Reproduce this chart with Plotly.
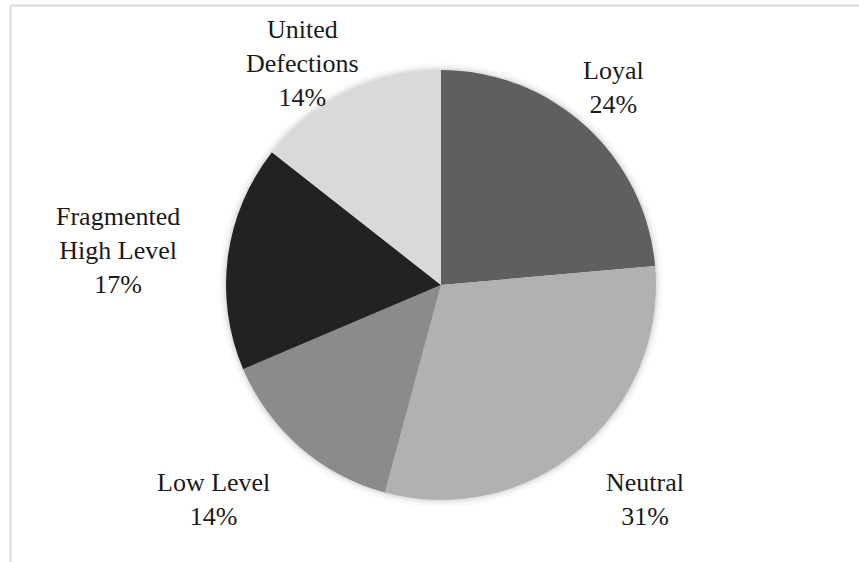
import plotly.graph_objects as go

# ---- data ----
categories = ["Loyal", "Neutral", "Low Level", "Fragmented<br>High Level", "United<br>Defections"]
shares = [23.6, 30.6, 14.4, 17.0, 14.4]
colors = ["#5f5f5f", "#b1b1b1", "#8b8b8b", "#222222", "#d9d9d9"]
title_text = "Figure 2: Composition of the Regime Types in Each of Elites"

# ---- layout constants (pixels) ----
W, H = 859, 562
cx, cy, r = 441, 285, 215
label_pos = [(613, 88), (645, 499), (213, 499), (118, 250), (302, 64)]
SERIF = "Times New Roman, Liberation Serif, serif"

total = sum(shares)

fig = go.Figure()
fig.add_trace(go.Pie(
    labels=[c.replace("<br>", " ") for c in categories],
    values=shares,
    marker=dict(colors=colors, line=dict(width=0)),
    sort=False,
    direction="clockwise",
    rotation=0,
    textinfo="none",
    hoverinfo="label+percent",
    showlegend=False,
    domain=dict(x=[(cx - r) / W, (cx + r) / W], y=[(H - cy - r) / H, (H - cy + r) / H]),
))

annotations = []
for (px, py), cat, v in zip(label_pos, categories, shares):
    annotations.append(dict(
        x=px / W, y=1 - py / H, xref="paper", yref="paper",
        text=f"{cat}<br>{round(v / total * 100)}%",
        showarrow=False, xanchor="center", yanchor="middle",
        font=dict(family=SERIF, size=26, color="#1a1a1a"),
    ))

annotations.append(dict(
    x=143 / W, y=1 - 2 / H, xref="paper", yref="paper",
    text=f"<b><i>{title_text}</i></b>", showarrow=False,
    xanchor="left", yanchor="bottom",
    font=dict(family=SERIF, size=27, color="#000000"),
))

shapes = []
for extra, alpha in [(7, 0.025), (4, 0.035), (2, 0.05)]:
    rr = r + extra
    shapes.append(dict(
        type="circle", xref="paper", yref="paper", layer="below",
        x0=(cx - rr) / W, x1=(cx + rr) / W,
        y0=(H - cy - rr) / H, y1=(H - cy + rr) / H,
        fillcolor=f"rgba(0,0,0,{alpha})", line=dict(width=0),
    ))
shapes.append(dict(type="line", xref="paper", yref="paper",
                   x0=10.5 / W, x1=1, y0=1 - 5.5 / H, y1=1 - 5.5 / H,
                   line=dict(color="#d9d9d9", width=2)))
shapes.append(dict(type="line", xref="paper", yref="paper",
                   x0=10.5 / W, x1=10.5 / W, y0=0, y1=1 - 5.5 / H,
                   line=dict(color="#d9d9d9", width=2)))

fig.update_layout(
    width=W, height=H,
    margin=dict(l=0, r=0, t=0, b=0),
    paper_bgcolor="white", plot_bgcolor="white",
    annotations=annotations, shapes=shapes,
)

fig.write_html("out.html",
               config={"displayModeBar": False},
               post_script="document.body.style.margin='0';document.body.style.overflow='hidden';")
